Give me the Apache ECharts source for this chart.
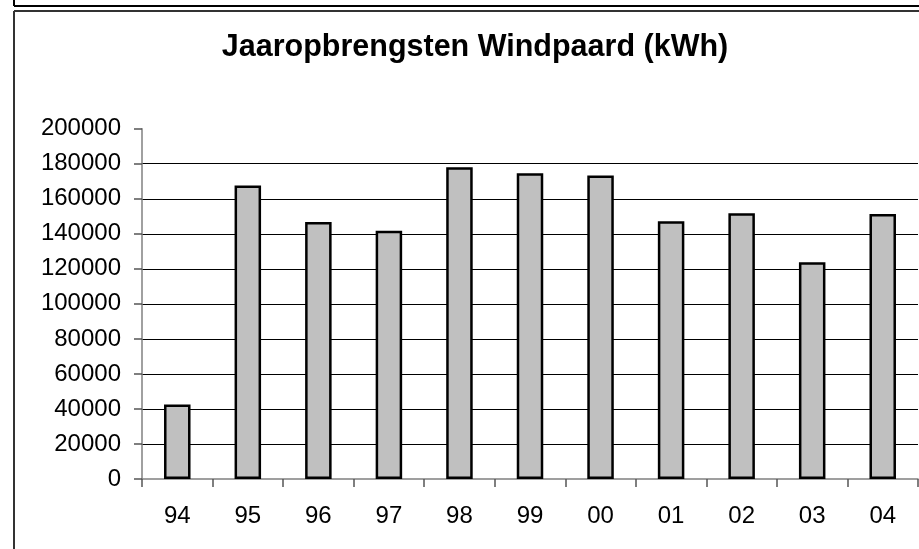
<!DOCTYPE html>
<html>
<head>
<meta charset="utf-8">
<script src="https://cdn.jsdelivr.net/npm/echarts@6/dist/echarts.min.js"></script>
<style>
html,body{margin:0;padding:0;background:#fff;}
#chart{width:919px;height:549px;}
</style>
</head>
<body>
<div id="chart"></div>
<script>
var titleText = 'Jaaropbrengsten Windpaard (kWh)';
var years = ['94','95','96','97','98','99','00','01','02','03','04'];
var yields = [42600, 167500, 146700, 141800, 178000, 174600, 173300, 147100, 151700, 123700, 151300];
var yMin = 0, yMax = 200000, yStep = 20000;

var chart = echarts.init(document.getElementById('chart'), null, {renderer: 'canvas'});
chart.setOption({
  animation: false,
  backgroundColor: '#ffffff',
  title: {
    text: titleText,
    left: 475,
    top: 32,
    textAlign: 'center',
    padding: 0,
    textStyle: {fontFamily: 'Liberation Sans', fontWeight: 'bold', fontSize: 30.5, color: '#000'}
  },
  grid: {left: 142, right: 1, top: 128.7, bottom: 70, containLabel: false},
  xAxis: {
    type: 'category',
    data: years,
    boundaryGap: true,
    axisLine: {show: true, lineStyle: {color: '#808080', width: 1.5}},
    axisTick: {show: true, inside: false, length: 8, alignWithLabel: false, lineStyle: {color: '#555', width: 1.5}},
    axisLabel: {margin: 25, fontFamily: 'Liberation Sans', fontSize: 24, color: '#000'},
    splitLine: {show: false}
  },
  yAxis: {
    type: 'value',
    min: yMin, max: yMax, interval: yStep,
    axisLine: {show: true, lineStyle: {color: '#808080', width: 1.5}},
    axisTick: {show: true, inside: false, length: 8, lineStyle: {color: '#555', width: 1.5}},
    axisLabel: {margin: 21, fontFamily: 'Liberation Sans', fontSize: 24, color: '#000',
      formatter: function (v) { return String(v); }},
    splitLine: {show: true, showMinLine: false, showMaxLine: false, lineStyle: {color: '#000', width: 1}}
  },
  series: [{
    type: 'bar',
    data: yields,
    barWidth: 26.5,
    itemStyle: {color: '#C0C0C0', borderColor: '#000', borderWidth: 2.5}
  }],
  graphic: [
    {type: 'line', shape: {x1: 14, y1: 0, x2: 14, y2: 6}, style: {stroke: '#000', lineWidth: 2}},
    {type: 'line', shape: {x1: 14, y1: 6, x2: 919, y2: 6}, style: {stroke: '#000', lineWidth: 2}},
    {type: 'line', shape: {x1: 14, y1: 11, x2: 919, y2: 11}, style: {stroke: '#333', lineWidth: 2}},
    {type: 'line', shape: {x1: 14, y1: 11, x2: 14, y2: 549}, style: {stroke: '#333', lineWidth: 2}}
  ]
});
</script>
</body>
</html>
